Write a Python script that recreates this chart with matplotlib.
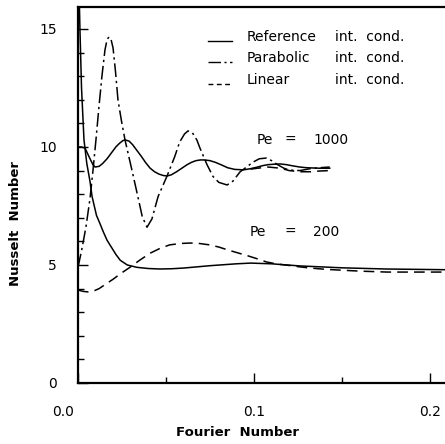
import matplotlib
matplotlib.use("Agg")
import matplotlib.pyplot as plt
from matplotlib.lines import Line2D
import matplotlib.transforms as mtransforms

# ---- data ----
ref1000_x = [0.0, 0.002, 0.004, 0.0065, 0.0085, 0.0097, 0.012, 0.014, 0.0165, 0.019, 0.0215,
             0.0235, 0.0255, 0.0267, 0.029, 0.031, 0.0335, 0.036, 0.0385, 0.041, 0.0435,
             0.046, 0.0485, 0.0506, 0.053, 0.056, 0.059, 0.062, 0.0645, 0.067, 0.0695,
             0.072, 0.075, 0.078, 0.0815, 0.085, 0.089, 0.094, 0.098, 0.102, 0.105,
             0.108, 0.1115, 0.115, 0.1185, 0.122, 0.126, 0.13, 0.137, 0.143]
ref1000_y = [10.0, 10.0, 9.95, 9.55, 9.25, 9.15, 9.18, 9.3, 9.5, 9.75, 10.0,
             10.15, 10.27, 10.3, 10.25, 10.1, 9.85, 9.6, 9.33, 9.1, 8.95,
             8.85, 8.79, 8.77, 8.82, 8.95, 9.1, 9.25, 9.35, 9.42, 9.45,
             9.45, 9.42, 9.35, 9.24, 9.12, 9.05, 9.03, 9.08, 9.15, 9.21,
             9.25, 9.27, 9.28, 9.25, 9.2, 9.15, 9.12, 9.1, 9.1]

par1000_x = [0.0, 0.002, 0.0045, 0.0068, 0.0085, 0.0102, 0.0119, 0.0136, 0.0153, 0.0165,
             0.0176, 0.0188, 0.0199, 0.0213, 0.0227, 0.0247, 0.0267, 0.0307, 0.034, 0.0365,
             0.0392, 0.042, 0.0455, 0.0506, 0.055, 0.0577, 0.0605, 0.0625, 0.065, 0.0675,
             0.0693, 0.0733, 0.0767, 0.080, 0.0847, 0.088, 0.092, 0.0995, 0.103, 0.107,
             0.110, 0.1136, 0.117, 0.120, 0.126, 0.132, 0.137, 0.143]
par1000_y = [4.9, 5.6, 6.6, 7.8, 9.0, 10.3, 11.7, 13.0, 14.1, 14.55,
             14.66, 14.55, 14.2, 13.2, 12.0, 11.1, 10.3, 9.0, 7.9, 7.05,
             6.6, 6.95, 7.9, 8.77, 9.6, 10.2, 10.55, 10.68, 10.6, 10.3,
             9.95, 9.25, 8.75, 8.5, 8.39, 8.55, 8.94, 9.36, 9.5, 9.53,
             9.42, 9.24, 9.1, 9.02, 9.0, 9.08, 9.12, 9.15]

lin1000_x = [0.098, 0.102, 0.108, 0.115, 0.12, 0.126, 0.132, 0.137, 0.143]
lin1000_y = [9.06, 9.1, 9.15, 9.1, 9.0, 8.95, 8.95, 8.98, 9.0]

ref200_x = [0.0005, 0.0011, 0.002, 0.0034, 0.005, 0.0068, 0.008, 0.0105, 0.0125, 0.0144,
            0.0165, 0.019, 0.0215, 0.024, 0.028, 0.0335, 0.04, 0.0466, 0.053, 0.06,
            0.075, 0.09, 0.098, 0.11, 0.126, 0.15, 0.175, 0.2085]
ref200_y = [17.0, 15.0, 12.5, 10.3, 9.3, 8.55, 7.9, 7.1, 6.75, 6.4,
            6.05, 5.75, 5.45, 5.2, 5.0, 4.9, 4.85, 4.83, 4.84, 4.87,
            4.97, 5.05, 5.08, 5.05, 4.96, 4.88, 4.83, 4.8]

lin200_x = [0.0, 0.003, 0.0057, 0.009, 0.012, 0.016, 0.02, 0.0245, 0.0295, 0.035, 0.041,
            0.0465, 0.052, 0.058, 0.0636, 0.069, 0.075, 0.08, 0.085, 0.09, 0.096,
            0.1015, 0.107, 0.113, 0.12, 0.126, 0.132, 0.14, 0.147, 0.16, 0.1756,
            0.19, 0.2085]
lin200_y = [3.94, 3.88, 3.86, 3.9, 4.0, 4.2, 4.4, 4.65, 4.9, 5.2, 5.5,
            5.7, 5.85, 5.91, 5.93, 5.91, 5.85, 5.76, 5.64, 5.53, 5.4,
            5.27, 5.13, 5.04, 4.98, 4.92, 4.87, 4.82, 4.79, 4.74, 4.7,
            4.7, 4.7]

xticks = [0.0, 0.1, 0.2]
xtick_labels = ["0.0", "0.1", "0.2"]
yticks = [0, 5, 10, 15]
ytick_labels = ["0", "5", "10", "15"]
legend_names = ["Reference", "Parabolic", "Linear"]

# ---- figure ----
W, H = 445, 444
fig = plt.figure(figsize=(W / 100, H / 100), dpi=100)
plt.rcParams['font.family'] = ['DejaVu Sans']

def fx(px):
    return px / W

def fy(py):
    return 1 - py / H

ax = fig.add_axes([fx(78), fy(383), fx(445) - fx(78), fy(7) - fy(383)])
ax.set_xlim(0, 0.2085)
ax.set_ylim(0, 15.93)

lw = 1.1
dash = (7, 4)
dashdot = (9, 2.5, 1.5, 2.5)
ax.plot(ref1000_x, ref1000_y, color='black', lw=lw)
ax.plot(par1000_x, par1000_y, color='black', lw=lw, dashes=dashdot)
ax.plot(lin1000_x, lin1000_y, color='black', lw=lw, dashes=dash)
ax.plot(ref200_x, ref200_y, color='black', lw=lw)
ax.plot(lin200_x, lin200_y, color='black', lw=lw, dashes=dash)

for s in ['left', 'bottom', 'top']:
    ax.spines[s].set_linewidth(1.6)
ax.spines['right'].set_visible(False)

ax.set_xticks(xticks)
ax.set_xticklabels(xtick_labels)
ax.set_xticks([0.05, 0.15], minor=True)
ax.set_yticks(yticks)
ax.set_yticklabels(ytick_labels)
ax.set_yticks(range(0, 16), minor=True)
ax.tick_params(axis='both', which='major', direction='in', length=7, width=1.0,
               labelsize=10)
ax.tick_params(axis='both', which='minor', direction='in', length=4, width=1.0)
ax.tick_params(axis='y', which='major', pad=15)
ax.tick_params(axis='x', which='major', pad=16)

# shift the "0.0" label left, as in the reference
lab0 = ax.get_xticklabels()[0]
lab0.set_transform(lab0.get_transform() + mtransforms.ScaledTranslation(-15 / 100, 0, fig.dpi_scale_trans))

fig.text(fx(237), fy(432), "Fourier  Number", ha='center', va='center',
         fontsize=9.5, fontweight='bold')
fig.text(fx(16), fy(223), "Nusselt  Number", ha='center', va='center',
         fontsize=9.5, fontweight='bold', rotation=90)

# Pe annotations
ax.text(0.1017, 10.3, "Pe", ha='left', va='center', fontsize=10)
ax.text(0.1205, 10.3, "=", ha='center', va='center', fontsize=10)
ax.text(0.1335, 10.3, "1000", ha='left', va='center', fontsize=10)
ax.text(0.0977, 6.4, "Pe", ha='left', va='center', fontsize=10)
ax.text(0.1205, 6.4, "=", ha='center', va='center', fontsize=10)
ax.text(0.1335, 6.4, "200", ha='left', va='center', fontsize=10)

# legend (hand drawn as in the original)
rows = [37, 58, 80]
styles = [None, dashdot, (3.5, 2.5)]
for py, name, st in zip(rows, legend_names, styles):
    ln = Line2D([fx(208), fx(232)], [fy(py + 4), fy(py + 4)], transform=fig.transFigure,
                color='black', lw=1.0)
    if st is not None:
        ln.set_dashes(st)
    fig.add_artist(ln)
    fig.text(fx(247), fy(py), name, ha='left', va='center', fontsize=10)
    fig.text(fx(335), fy(py), "int.  cond.", ha='left', va='center', fontsize=10)

fig.savefig("out.png", dpi=100)
